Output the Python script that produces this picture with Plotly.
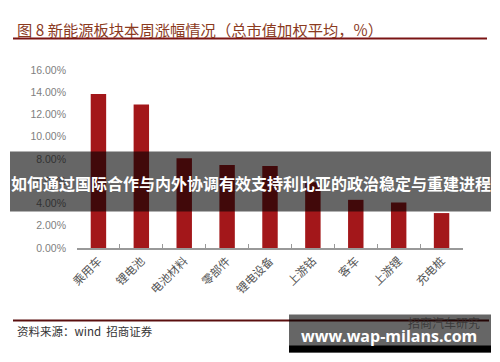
import plotly.graph_objects as go

categories = ["乘用车", "锂电池", "电池材料", "零部件", "锂电设备", "上游钴", "客车", "上游锂", "充电桩"]
values = [13.85, 12.9, 8.07, 7.47, 7.38, 5.9, 4.33, 4.09, 3.14]
y_ticks = [0, 2, 4, 6, 8, 10, 12, 14, 16]
y_tick_labels = [f"{v:.2f}%" for v in y_ticks]

title_text = "图 8 新能源板块本周涨幅情况（总市值加权平均，%）"
source_text = "资料来源：wind  招商证券"
banner_text = "如何通过国际合作与内外协调有效支持利比亚的政治稳定与重建进程"
watermark_text = "www.wap-milans.com"
faint_text = "招商汽车研究"

W, H = 500, 362
CJK = "Noto Sans CJK SC"
L, R, T, B = 77, 37, 70, 113.7
PW = W - L - R
PH = H - T - B

fig = go.Figure()
fig.add_trace(go.Bar(
    x=categories, y=values, width=0.36,
    marker=dict(color="#A3171A", line=dict(width=0)),
))

fig.update_layout(
    width=W, height=H,
    margin=dict(l=L, r=R, t=T, b=B),
    paper_bgcolor="white", plot_bgcolor="white",
    showlegend=False,
    font=dict(family="Liberation Sans, Arial", color="#666666"),
    xaxis=dict(
        type="category", tickangle=-45, tickson="boundaries",
        ticks="inside", ticklen=4, tickcolor="#999999", tickwidth=1,
        showline=True, linecolor="#999999", linewidth=1.5,
        showgrid=False, tickfont=dict(family=CJK, size=11.5, color="#555555"),
    ),
    yaxis=dict(
        range=[0, 16], tickvals=y_ticks, ticktext=y_tick_labels,
        showgrid=False, zeroline=False, showline=False,
        tickfont=dict(size=10.5, color="#808080"), ticks="", ticklabelstandoff=10,
    ),
)

def px_x(v):
    return (v - L) / PW

def px_y(v):
    return (H - B - v) / PH

shapes = []
shapes.append(dict(type="line", xref="paper", yref="paper", x0=px_x(13), x1=px_x(487),
                   y0=px_y(38.5), y1=px_y(38.5), line=dict(color="#7A1414", width=2)))
shapes.append(dict(type="line", xref="paper", yref="paper", x0=px_x(13), x1=px_x(489),
                   y0=px_y(321), y1=px_y(321), line=dict(color="#5A0E0E", width=2)))
shapes.append(dict(type="rect", xref="paper", yref="paper", x0=px_x(10), x1=px_x(491),
                   y0=px_y(211.7), y1=px_y(151.7), fillcolor="rgba(0,0,0,0.6)",
                   line=dict(width=0), layer="above"))
shapes.append(dict(type="rect", xref="paper", yref="paper", x0=px_x(289), x1=px_x(491),
                   y0=px_y(353), y1=px_y(315), fillcolor="rgba(0,0,0,0.6)",
                   line=dict(width=0), layer="above"))
shapes.append(dict(type="rect", xref="paper", yref="paper", x0=px_x(289), x1=px_x(491),
                   y0=px_y(353), y1=px_y(346), fillcolor="#000000",
                   line=dict(width=0), layer="above"))
fig.update_layout(shapes=shapes)

ann = []
ann.append(dict(text=title_text, xref="paper", yref="paper", x=px_x(15), y=px_y(29),
                xanchor="left", yanchor="middle", showarrow=False,
                font=dict(family=CJK, size=15.3, color="#8B3A1E")))
ann.append(dict(text=source_text, xref="paper", yref="paper", x=px_x(15), y=px_y(331.5),
                xanchor="left", yanchor="middle", showarrow=False,
                font=dict(family=CJK, size=11.5, color="#333333")))
ann.append(dict(text=faint_text, xref="paper", yref="paper", x=px_x(482), y=px_y(322.5),
                xanchor="right", yanchor="middle", showarrow=False,
                font=dict(family=CJK, size=12, color="rgba(45,45,45,0.75)")))
ann.append(dict(text="<b>" + banner_text + "</b>", xref="paper", yref="paper", x=px_x(250.5), y=px_y(183),
                xanchor="center", yanchor="middle", showarrow=False,
                font=dict(family=CJK, size=16, color="white")))
ann.append(dict(text="<b>" + watermark_text + "</b>", xref="paper", yref="paper", x=px_x(389), y=px_y(336.5),
                xanchor="center", yanchor="middle", showarrow=False,
                font=dict(family="Open Sans", size=16, color="white")))
fig.update_layout(annotations=ann)

fig.write_html("out.html")
